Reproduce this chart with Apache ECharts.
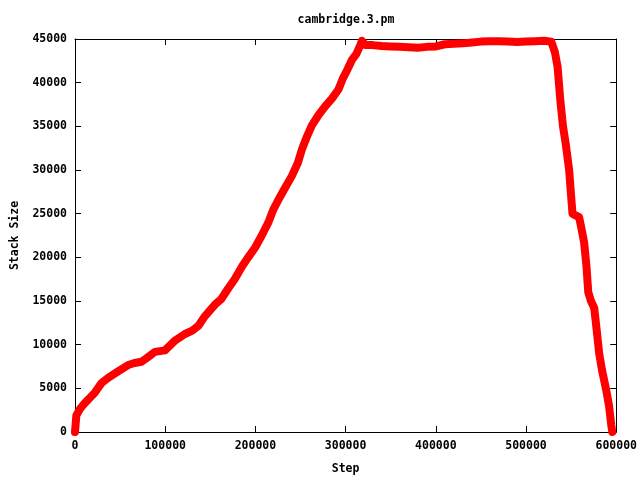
<!DOCTYPE html>
<html>
<head>
<meta charset="utf-8">
<script src="https://cdn.jsdelivr.net/npm/echarts@6/dist/echarts.min.js"></script>
<style>html,body{margin:0;padding:0;background:#fff}#c{width:640px;height:480px}</style>
</head>
<body>
<div id="c"></div>
<script>
const chartTitle = "cambridge.3.pm";
const xLabel = "Step";
const yLabel = "Stack Size";
const steps = [0,1500,5200,10000,14400,21900,29300,36700,47800,58900,66000,73700,80000,88600,99700,110800,121900,130000,136700,144100,155200,162000,170000,177000,184800,192000,199700,207000,214400,220000,225600,232000,240300,247000,251400,257000,262600,270000,277400,285000,292200,297000,302000,307000,312000,316300,318000,322000,330000,340000,350000,360000,370000,380000,390000,400000,410000,420000,430000,440000,450000,460000,470000,480000,490000,500000,510000,520000,528000,532000,535000,538000,541000,544000,547800,550000,551500,555000,558900,562000,564400,567000,569000,572000,575600,578000,581100,584000,588900,592000,594500,595600];
const sizes = [0,1900,2600,3200,3700,4500,5600,6200,6950,7670,7900,8050,8500,9170,9350,10470,11220,11600,12150,13270,14590,15200,16460,17500,18890,20000,21130,22500,24000,25500,26600,27800,29300,30800,32300,33800,35100,36300,37300,38200,39250,40500,41500,42600,43300,44300,44800,44300,44300,44200,44150,44100,44050,44000,44100,44150,44400,44450,44500,44600,44700,44750,44750,44700,44650,44700,44750,44800,44700,43500,41800,38000,35000,33000,30000,27000,25000,24800,24600,23000,21700,19000,16000,15000,14200,12000,9000,7200,4800,3000,800,0];
const xTicks = [0,100000,200000,300000,400000,500000,600000];
const yTicks = [0,5000,10000,15000,20000,25000,30000,35000,40000,45000];

const data = steps.map((s,i)=>[s,sizes[i]]);
const font = "'DejaVu Sans Mono', 'Liberation Mono', monospace";
const lab = {fontFamily:font, fontWeight:'bold', fontSize:11.5, color:'#000'};
function ax(extra){
  return Object.assign({
    axisLine:{show:true,onZero:false,lineStyle:{color:'#000',width:1}},
    axisTick:{show:true,inside:true,length:6,lineStyle:{color:'#000'}},
    splitLine:{show:false}
  },extra);
}
const chart = echarts.init(document.getElementById('c'),null,{renderer:'canvas'});
chart.setOption({
  animation:false,
  backgroundColor:'#fff',
  grid:{left:75,right:21,top:39,bottom:40,containLabel:false,show:false},
  title:{text:chartTitle,left:341,top:9,textAlign:'center',textStyle:lab},
  xAxis:[
    ax({type:'value',min:xTicks[0],max:xTicks[xTicks.length-1],interval:xTicks[1]-xTicks[0],position:'bottom',
      axisLabel:Object.assign({margin:8,formatter:v=>String(v)},lab),
      name:xLabel,nameLocation:'middle',nameGap:31,nameTextStyle:lab}),
    ax({type:'value',min:xTicks[0],max:xTicks[xTicks.length-1],interval:xTicks[1]-xTicks[0],position:'top',axisLabel:{show:false}})
  ],
  yAxis:[
    ax({type:'value',min:yTicks[0],max:yTicks[yTicks.length-1],interval:yTicks[1]-yTicks[0],position:'left',
      axisLabel:Object.assign({margin:8,formatter:v=>String(v)},lab),
      name:yLabel,nameLocation:'middle',nameGap:53,nameRotate:90,nameTextStyle:lab}),
    ax({type:'value',min:yTicks[0],max:yTicks[yTicks.length-1],interval:yTicks[1]-yTicks[0],position:'right',axisLabel:{show:false}})
  ],
  series:[{
    type:'line',
    data:data,
    xAxisIndex:0,yAxisIndex:0,
    showSymbol:false,
    smooth:false,
    lineStyle:{color:'#ff0000',width:8,cap:'round',join:'round'},
    itemStyle:{color:'#ff0000'},
    clip:false
  }]
});
</script>
</body>
</html>
